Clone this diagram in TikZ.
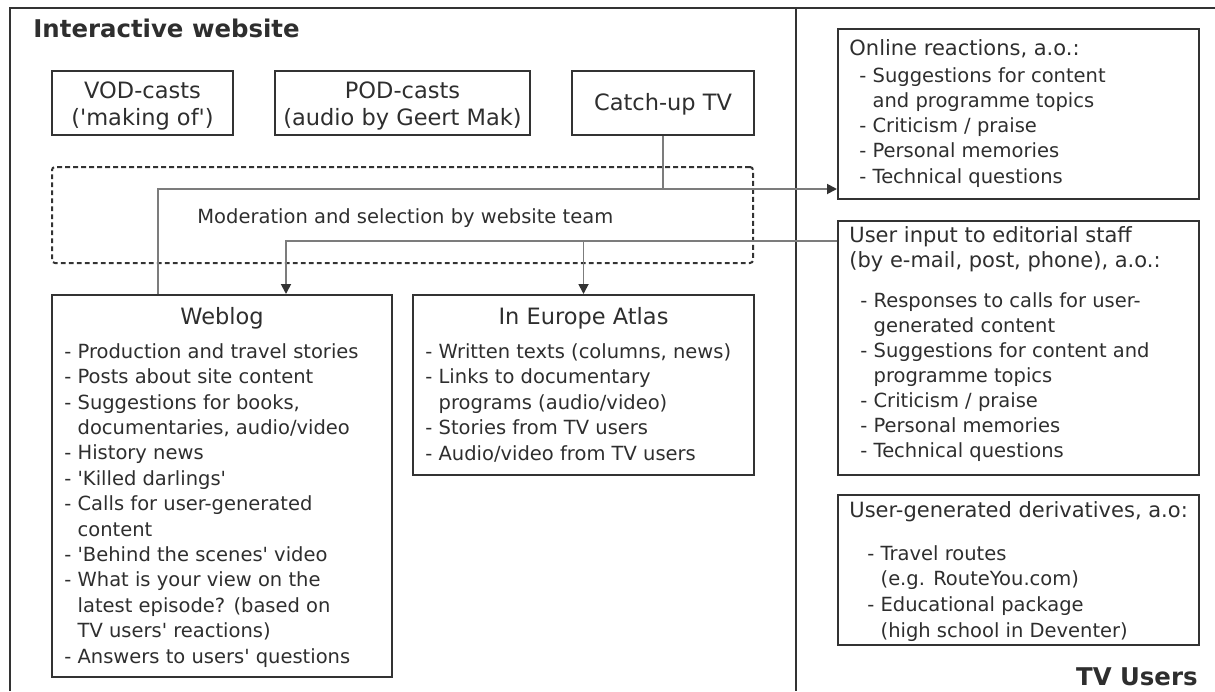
\documentclass[tikz,border=0pt]{standalone}
\usepackage{fontspec}
\setmainfont{DejaVu Sans}
\usetikzlibrary{arrows.meta,fit}
\definecolor{ink}{HTML}{2E2E2E}
\definecolor{boxc}{HTML}{333333}
\definecolor{conc}{HTML}{7C7C7C}
\newcommand\lstf{\fontsize{9.75}{12.7}\selectfont}
\newcommand\hdf{\fontsize{11.25}{13.5}\selectfont}
\newcommand\rhf{\fontsize{10.5}{12.5}\selectfont}
\newcommand\ttlf{\fontsize{12.2}{14}\selectfont\bfseries}
\newcommand\ind{\hphantom{-\ }}
\newcommand\sq{\textquotesingle}
\begin{document}
\begin{tikzpicture}[x=0.5pt,y=-0.5pt,
  every node/.style={text=ink,inner sep=0pt},
  box/.style={draw=boxc,line width=1pt,inner sep=0pt},
  dbox/.style={draw=boxc,line width=1pt,dash pattern=on 2.4pt off 1.6pt,rounded corners=1.5pt,inner sep=0pt},
  frame/.style={draw=boxc,line width=1pt},
  conn/.style={draw=conc,line width=0.9pt},
  tipped/.style={-{Triangle[length=5pt,width=5pt,color=boxc]}},
  lst/.style={font=\lstf,align=left,anchor=base west},
  hd/.style={font=\hdf,anchor=base,align=center},
  rhd/.style={font=\rhf,align=left,anchor=base west},
  ttl/.style={font=\ttlf}]
\useasboundingbox (0,0) rectangle (1215,691);
% frame
\draw[frame] (10,691) -- (10,8) -- (1215,8);
\draw[frame] (796,8) -- (796,691);
\node[ttl,anchor=base west] (title) at (33,37) {Interactive website};
\node[ttl,anchor=base east] (tvu) at (1198,685) {TV Users};
% top boxes (multi-line nodes are anchored at the baseline of their last line)
\node[box,fit={(52,71) (233,135)}] (vod) {};
\node[hd] (vodt) at (142.5,125) {VOD-casts\\(\sq making of\sq)};
\node[box,fit={(275,71) (530,135)}] (pod) {};
\node[hd] (podt) at (402.5,125) {POD-casts\\(audio by Geert Mak)};
\node[box,fit={(572,71) (754,135)}] (cat) {};
\node[hd] (catt) at (663,110) {Catch-up TV};
% moderation
\node[dbox,fit={(52,167) (753,263)}] (mod) {};
\node[font=\lstf,anchor=base west] (modt) at (197,223) {Moderation and selection by website team};
% weblog
\node[box,fit={(52,295) (392,677)}] (web) {};
\node[hd] (webh) at (222,324) {Weblog};
\node[lst] (webl) at (64,663) {- Production and travel stories\\
- Posts about site content\\
- Suggestions for books,\\
\ind documentaries, audio/video\\
- History news\\
- \sq Killed darlings\sq\\
- Calls for user-generated\\
\ind content\\
- \sq Behind the scenes\sq\ video\\
- What is your view on the\\
\ind latest episode? (based on\\
\ind TV users\sq\ reactions)\\
- Answers to users\sq\ questions};
% atlas
\node[box,fit={(413,295) (754,475)}] (atl) {};
\node[hd] (atlh) at (583.5,324) {In Europe Atlas};
\node[lst,font=\fontsize{9.75}{12.75}\selectfont] (atll) at (425,460) {- Written texts (columns, news)\\
- Links to documentary\\
\ind programs (audio/video)\\
- Stories from TV users\\
- Audio/video from TV users};
% online reactions
\node[box,fit={(838,29) (1199,199)}] (onl) {};
\node[rhd] (onlh) at (849,55) {Online reactions, a.o.:};
\node[lst,font=\fontsize{9.75}{12.6}\selectfont] (onll) at (859,183) {- Suggestions for content\\
\ind and programme topics\\
- Criticism / praise\\
- Personal memories\\
- Technical questions};
% user input
\node[box,fit={(838,221) (1199,475)}] (uin) {};
\node[rhd] (uinh) at (849,267) {User input to editorial staff\\(by e-mail, post, phone), a.o.:};
\node[lst,font=\fontsize{9.75}{12.5}\selectfont] (uinl) at (860,457) {- Responses to calls for user-\\
\ind generated content\\
- Suggestions for content and\\
\ind programme topics\\
- Criticism / praise\\
- Personal memories\\
- Technical questions};
% user-generated derivatives
\node[box,fit={(838,495) (1199,645)}] (ugd) {};
\node[rhd] (ugdh) at (849,517) {User-generated derivatives, a.o:};
\node[lst,font=\fontsize{9.75}{12.8}\selectfont] (ugdl) at (867,637) {- Travel routes\\
\ind (e.g. RouteYou.com)\\
- Educational package\\
\ind (high school in Deventer)};
% connectors
\coordinate (j1) at (158,189);
\coordinate (j2) at (286,241);
\draw[conn,tipped] (web.north -| j1) -- (j1) -- (j1 -| onl.west);
\draw[conn] (cat.south) -- (cat.south |- j1);
\draw[conn,tipped] (uin.west |- j2) -- (j2) -- (j2 |- web.north);
\draw[conn,tipped] (atl.north |- j2) -- (atl.north);
\end{tikzpicture}
\end{document}
